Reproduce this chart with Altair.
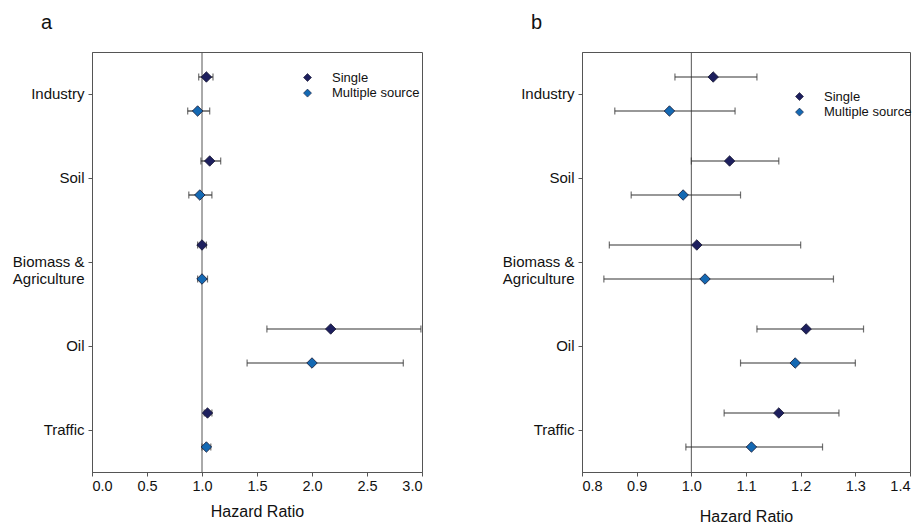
import altair as alt
import pandas as pd

categories = ["Industry", "Soil", "Biomass & Agriculture", "Oil", "Traffic"]
series = ["Single", "Multiple source"]

# Panel a
a_single_hr = [1.04, 1.07, 1.00, 2.17, 1.05]
a_single_lo = [0.97, 0.99, 0.96, 1.59, 1.02]
a_single_hi = [1.10, 1.17, 1.04, 2.99, 1.09]
a_multi_hr = [0.96, 0.98, 1.00, 2.00, 1.04]
a_multi_lo = [0.87, 0.88, 0.96, 1.41, 1.00]
a_multi_hi = [1.07, 1.09, 1.05, 2.83, 1.08]

# Panel b
b_single_hr = [1.04, 1.07, 1.01, 1.21, 1.16]
b_single_lo = [0.97, 1.00, 0.85, 1.12, 1.06]
b_single_hi = [1.12, 1.16, 1.20, 1.315, 1.27]
b_multi_hr = [0.96, 0.985, 1.025, 1.19, 1.11]
b_multi_lo = [0.86, 0.89, 0.84, 1.09, 0.99]
b_multi_hi = [1.08, 1.09, 1.26, 1.30, 1.24]

a_ticks = [0.0, 0.5, 1.0, 1.5, 2.0, 2.5, 3.0]
b_ticks = [0.8, 0.9, 1.0, 1.1, 1.2, 1.3, 1.4]
reference = [1.0]

colors = ["#1d1f5e", "#1469b3"]
FONT = "Liberation Sans"


def frame(sh, sl, shi, mh, ml, mhi):
    rows = []
    for i, c in enumerate(categories):
        rows.append({"cat": c, "series": series[0], "hr": sh[i], "lo": sl[i], "hi": shi[i]})
        rows.append({"cat": c, "series": series[1], "hr": mh[i], "lo": ml[i], "hi": mhi[i]})
    return pd.DataFrame(rows)


label_expr = ("datum.value == 'Biomass & Agriculture' ? ['Biomass &', 'Agriculture'] : datum.value")


def panel(df, ticks, letter, width, title_pad, legend_x, legend_y):
    xscale = alt.Scale(domain=[ticks[0], ticks[-1]], nice=False, zero=False)
    x_axis = alt.Axis(values=ticks, format=".1f", title="Hazard Ratio", grid=False,
                      tickSize=4, labelFontSize=14.5, labelPadding=3, titleFontSize=16,
                      titleFontWeight="normal", titlePadding=title_pad, labelFont=FONT,
                      titleFont=FONT, labelColor="#111", titleColor="#111",
                      domainColor="#555", tickColor="#555")
    yenc = alt.Y("cat:N", sort=categories, title=None,
                 scale=alt.Scale(paddingInner=0, paddingOuter=0),
                 axis=alt.Axis(labelExpr=label_expr, labelFontSize=15, labelFont=FONT,
                               labelColor="#111", tickSize=4, labelPadding=4,
                               labelLineHeight=17, domainColor="#555", tickColor="#555",
                               labelAngle=0))
    yoff = alt.YOffset("series:N", sort=series,
                       scale=alt.Scale(domain=series, paddingOuter=0.235, paddingInner=0))
    base = alt.Chart(df)
    ref = alt.Chart(pd.DataFrame({"v": reference})).mark_rule(color="#555", strokeWidth=1).encode(
        x=alt.X("v:Q", scale=xscale, axis=x_axis))
    bars = base.mark_rule(color="#333", strokeWidth=1.2).encode(
        x=alt.X("lo:Q", scale=xscale, axis=x_axis), x2="hi:Q", y=yenc, yOffset=yoff)
    cap_lo = base.mark_tick(color="#333", orient="vertical", size=7, thickness=1.2).encode(
        x=alt.X("lo:Q", scale=xscale, axis=x_axis), y=yenc, yOffset=yoff)
    cap_hi = base.mark_tick(color="#333", orient="vertical", size=7, thickness=1.2).encode(
        x=alt.X("hi:Q", scale=xscale, axis=x_axis), y=yenc, yOffset=yoff)
    pts = base.mark_point(shape="diamond", filled=True, size=110, stroke="#151530",
                          strokeWidth=0.8, opacity=1).encode(
        x=alt.X("hr:Q", scale=xscale, axis=x_axis), y=yenc, yOffset=yoff,
        color=alt.Color("series:N", sort=series,
                        scale=alt.Scale(domain=series, range=colors),
                        legend=alt.Legend(title=None, orient="none", legendX=legend_x,
                                          legendY=legend_y, symbolType="diamond",
                                          symbolSize=64, labelFontSize=13, labelFont=FONT,
                                          labelColor="#111", labelOffset=18, rowPadding=1.6,
                                          padding=0, symbolStrokeColor="#151530",
                                          symbolStrokeWidth=0.6)))
    return alt.layer(ref, bars, cap_lo, cap_hi, pts).properties(
        width=width, height=420,
        title=alt.Title(letter, anchor="start", frame="group", dx=-51, offset=3,
                        baseline="alphabetic", fontSize=20, fontWeight="normal",
                        font=FONT, color="#111"))


left = panel(frame(a_single_hr, a_single_lo, a_single_hi, a_multi_hr, a_multi_lo, a_multi_hi),
             a_ticks, "a", 330, 11, 209, 19)
right = panel(frame(b_single_hr, b_single_lo, b_single_hi, b_multi_hr, b_multi_lo, b_multi_hi),
              b_ticks, "b", 328, 16, 211, 38)

chart = alt.hconcat(left, right, spacing=78).resolve_legend(color="independent").resolve_scale(
    color="independent").properties(
    padding={"left": 3, "top": 4, "right": 0, "bottom": 0}
).configure(background="white").configure_view(stroke="#555", strokeWidth=1)

chart.save("out.html", embed_options={"renderer": "svg", "actions": False})
